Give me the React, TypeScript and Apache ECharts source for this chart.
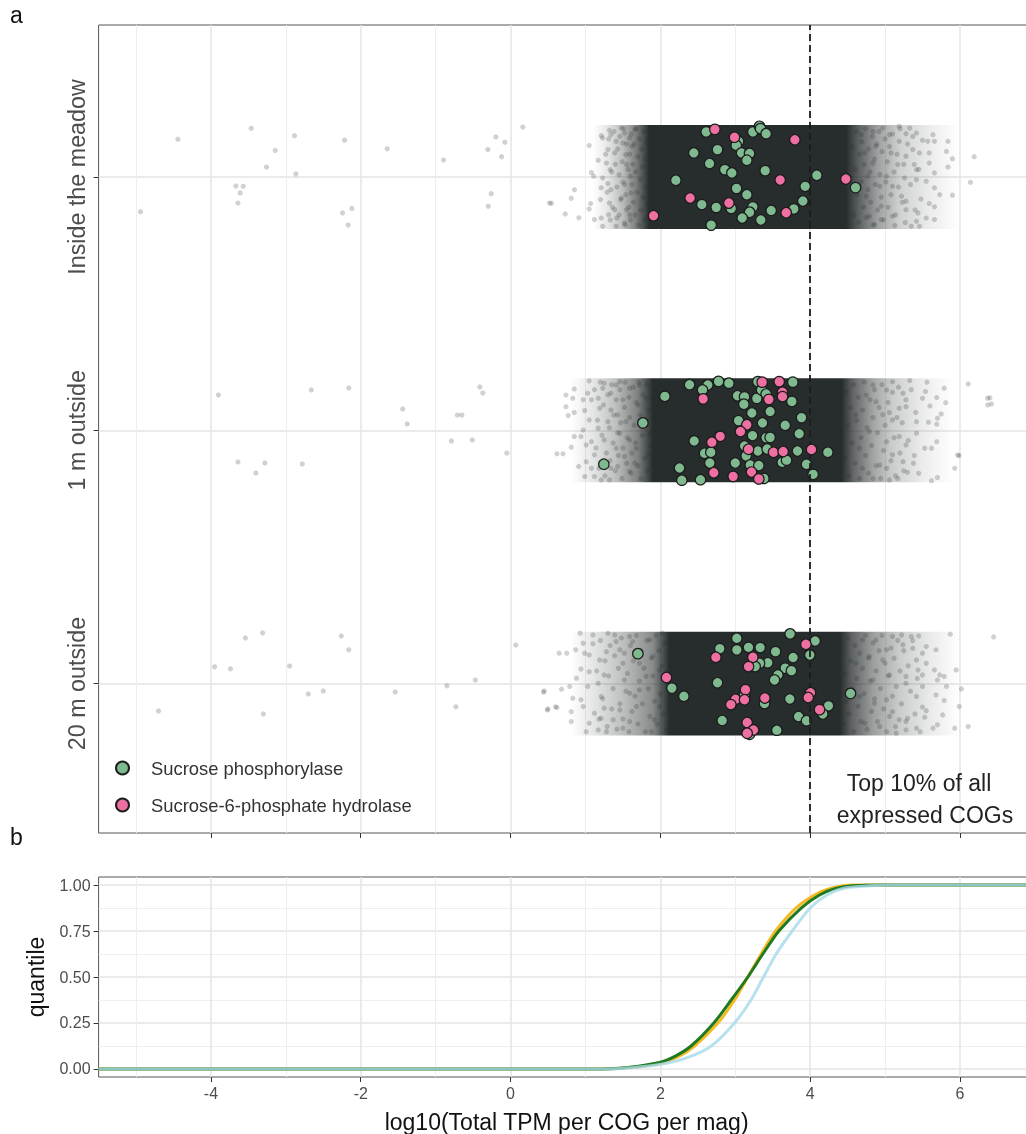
import React, { useEffect, useRef } from "react";
import * as echarts from "echarts";

const rowLabels = ["20 m outside", "1 m outside", "Inside the meadow"];
const rowValues = [1, 2, 3];
const majorX = [-4, -2, 0, 2, 4, 6];
const minorX = [-5, -3, -1, 1, 3, 5];
const majorQ = [0, 0.25, 0.5, 0.75, 1];
const minorQ = [0.125, 0.375, 0.625, 0.875];
const top10Threshold = 4;
const bandHalfHeight = 0.205;

// [log10 TPM, vertical jitter around the row]
const meadowGreen = [[2.612,.178],[3.235,.178],[3.324,.2],[3.337,.191],[3.413,.171],[3.044,.141],[3.013,.125],[2.763,.108],[2.447,.095],[3.084,.095],[3.191,.093],[3.155,.066],[2.657,.053],[2.861,.029],[2.955,.016],[3.4,.025],[4.089,.007],[2.207,-.013],[3.934,-.037],[3.017,-.045],[3.155,-.07],[4.606,-.042],[3.903,-.095],[2.554,-.109],[2.746,-.12],[2.946,-.124],[3.235,-.118],[3.191,-.139],[3.093,-.162],[3.342,-.17],[3.48,-.132],[3.782,-.126],[2.679,-.19]];
const meadowPink = [[2.728,.188],[2.99,.157],[3.796,.147],[3.6,-.012],[4.477,-.008],[2.398,-.083],[2.915,-.103],[3.68,-.141],[1.909,-.153]];
const oneMGreen = [[2.39,.18],[2.634,.179],[2.563,.159],[2.777,.193],[2.915,.186],[3.302,.192],[3.769,.19],[2.06,.134],[3.03,.136],[3.124,.132],[3.288,.126],[3.351,.159],[3.413,.143],[3.756,.114],[3.115,.103],[3.466,.074],[3.222,.068],[3.885,.05],[3.044,.038],[3.364,.029],[3.667,.02],[1.767,.029],[3.854,-.014],[3.231,-.021],[3.413,-.029],[3.466,-.028],[2.452,-.042],[3.124,-.062],[3.302,-.082],[3.426,-.074],[3.831,-.082],[4.236,-.087],[2.59,-.091],[2.674,-.087],[3.146,-.101],[2.661,-.129],[3,-.129],[3.2,-.137],[3.315,-.139],[3.627,-.126],[3.685,-.118],[3.951,-.134],[1.246,-.134],[2.256,-.149],[4.04,-.174],[2.287,-.197],[2.536,-.195],[3.382,-.19]];
const oneMPink = [[3.36,.19],[3.587,.192],[3.631,.15],[3.631,.133],[2.572,.124],[3.449,.122],[3.155,.022],[3.07,-.005],[2.799,-.024],[2.688,-.047],[3.177,-.075],[3.511,-.087],[3.64,-.084],[4.018,-.076],[2.714,-.168],[2.972,-.182],[3.217,-.165],[3.315,-.192]];
const twentyMGreen = [[3.021,.179],[3.733,.196],[4.067,.168],[2.794,.138],[3.021,.133],[3.177,.143],[3.333,.142],[3.538,.126],[3.996,.113],[3.773,.103],[3.435,.082],[3.324,.08],[3.266,.067],[3.667,.061],[3.751,.051],[3.569,.034],[3.524,.014],[2.763,.003],[1.7,.118],[2.154,-.018],[2.314,-.05],[4.539,-.039],[3.124,-.045],[3.729,-.061],[3.391,-.079],[4.245,-.088],[4.169,-.12],[3.845,-.13],[3.951,-.147],[2.826,-.146],[3.555,-.184],[3.191,-.2]];
const twentyMPink = [[3.943,.155],[2.741,.104],[3.235,.104],[3.177,.067],[2.082,.024],[3.137,-.024],[4.005,-.036],[3.974,-.055],[3.395,-.057],[3.004,-.062],[3.124,-.064],[2.941,-.083],[4.125,-.103],[3.159,-.154],[3.244,-.183],[3.159,-.196]];

const meadowCloud = [[-4.441,.149],[-3.462,.192],[-3.142,.105],[-3.258,.039],[-2.884,.163],[-2.866,.012],[-3.667,-.036],[-3.569,-.037],[-3.609,-.063],[-3.64,-.103],[-4.94,-.137],[-2.216,.145],[-2.243,-.142],[-2.118,-.124],[-2.167,-.19],[-1.647,.111],[-.895,.067],[-.196,.158],[-.076,.137],[-.303,.108],[-.12,.08],[.164,.197],[-.258,-.066],[-.298,-.116],[.52,-.103],[.547,-.104],[.854,-.05],[.81,-.084],[.73,-.146],[.912,-.161],
[1.05,.124],[1.08,.018],[1.11,.003],[1.21,.163],[1.32,.184],[1.34,.167],[1.23,.154],[1.17,.066],[1.21,-.043],[1.2,-.089],[1.05,-.126],[1.07,-.105],[1.12,-.168],[1.21,-.162],[1.23,-.195],[1.31,-.149],[1.41,-.195],[1.42,-.162],[1.39,-.129],[1.32,-.103],[1.34,-.05],[1.3,-.026],[1.23,-.004],[1.33,.029],[1.28,.055],[1.39,.095],[1.3,.108],[1.41,.141],[1.48,.193],[1.52,.174],[1.5,.134],[1.54,.088],[1.55,.049],[1.45,.009],[1.52,-.03],[1.48,-.083],[1.55,-.129],[1.52,-.182],[1.59,-.149],[1.61,-.063],[1.6,.003],[1.62,.121],[1.59,.154],[1.66,.187],
[5.19,.2],[5.33,.193],[5.28,.171],[5.42,.174],[5.5,.145],[5.64,.167],[5.57,.141],[5.66,.141],[5.84,.141],[5.82,.101],[5.9,.072],[5.84,.039],[5.66,.016],[5.59,.055],[5.59,.095],[5.46,.095],[5.37,.108],[5.28,.082],[5.39,.049],[5.42,.029],[5.26,-.004],[5.42,-.011],[5.55,-.017],[5.66,-.043],[5.73,-.07],[5.9,-.072],[5.48,-.087],[5.59,-.105],[5.66,-.118],[5.44,-.142],[5.66,-.168],[5.55,-.162],[5.42,-.175],[5.35,-.195],[5.46,-.195],[5.13,-.192],[5.1,-.155],[5.28,-.129],[5.28,-.096],[5.22,-.076],[5.1,-.037],[5.02,.003],[5.17,.049],[5.08,.095],[5.19,.141],[5.06,.167],[4.97,.193],[4.88,.121],[4.84,.055],[4.93,-.037],[4.95,-.116],[4.79,-.155],[4.75,-.076],[4.77,.003],[4.73,.095],[4.68,.167],[4.84,.18],[4.95,-.168],[4.86,-.188],[6.19,.08],[6.14,-.021],
[1.27,.09],[1.29,-.06],[1.31,.15],[1.33,-.17],[1.35,.02],[1.36,-.12],[1.38,.18],[1.4,.05],[1.42,-.04],[1.43,.11],[1.45,-.15],[1.46,.16],[1.47,-.09],[1.49,.06],[1.5,-.02],[1.51,.19],[1.53,-.19],[1.54,-.07],[1.55,.13],[1.57,.03],[1.58,-.12],[1.59,.09],[1.6,-.17],[1.61,.17],[1.62,-.03],[1.63,.05],[1.64,-.1],[1.65,.13],[1.66,-.15],[1.67,.02],[1.68,.19],[1.69,-.06],[1.7,.08],[1.71,-.19],[1.72,.15],[1.73,-.01],[1.74,-.13],[1.75,.11],[1.76,.04],[1.77,-.08],[1.78,.18],[1.79,-.17],[1.8,.07],[1.81,-.04],[1.82,.14],[1.84,-.11],
[4.56,.12],[4.58,-.15],[4.6,.03],[4.62,.18],[4.63,-.07],[4.65,-.18],[4.66,.09],[4.68,-.02],[4.69,.14],[4.71,-.12],[4.72,.05],[4.74,.19],[4.75,-.16],[4.77,-.05],[4.78,.11],[4.8,.02],[4.81,-.1],[4.83,.16],[4.84,-.19],[4.86,.07],[4.87,-.03],[4.89,.13],[4.9,-.13],[4.92,.18],[4.93,.01],[4.95,-.08],[4.96,.1],[4.98,-.17],[5,.15],[5.01,-.02],[5.03,.06],[5.04,-.12],[5.06,.12],[5.08,-.07],[5.1,.17],[5.12,.02],[5.14,-.15],[5.16,.09],[5.18,-.04],[5.2,.19],[5.23,-.1],[5.25,.05],[5.27,-.18],[5.3,.13],[5.34,-.03],[5.37,.16],[5.4,-.13],[5.45,.03]];
const oneMCloud = [[-3.9,.139],[-2.66,.159],[-2.16,.167],[-1.44,.084],[-1.38,.025],[-.71,.06],[-.65,.06],[-.41,.171],[-.37,.147],[-.79,-.042],[-.51,-.038],[-.05,-.09],[-3.64,-.125],[-3.4,-.169],[-3.28,-.129],[-2.78,-.133],[5.97,-.098],[6.4,.128],[6.42,.104],
[.62,-.093],[.7,-.093],[.81,-.067],[.91,-.143],[.74,.093],[.74,.139],[.85,.163],[.83,.126],[.77,.058],[.85,.07],[.99,.078],[.97,.12],[1.05,.195],[1.03,.146],[1.08,.12],[1.25,.186],[1.23,.166],[1.05,.041],[.97,.001],[.85,-.025],[.94,-.025],[1.01,-.058],[1.08,-.045],[1.12,-.097],[1.01,-.124],[.99,-.183],[1.12,-.183],[1.08,-.15],[1.21,-.196],[1.32,-.196],[1.34,-.15],[1.25,-.038],[1.17,.008],[1.3,.034],[1.34,.08],[1.19,.087],[1.17,.126],[1.34,.146],[1.41,.179],[1.46,.192],[1.5,.12],[1.43,.061],[1.54,.034],[1.46,-.012],[1.59,-.038],[1.41,-.071],[1.52,-.104],[1.43,-.143],[1.59,-.163],[1.66,-.13],[1.68,-.071],[1.7,.1],[1.59,.166],[1.72,.179],[1.81,.126],[1.83,-.097],[1.86,-.018],
[5.33,.196],[5.56,.19],[5.79,.166],[6.11,.183],[5.54,.153],[5.5,.126],[5.69,.129],[5.81,.109],[5.6,.096],[5.75,.064],[5.7,.047],[5.58,.032],[5.69,.024],[5.42,.034],[5.42,-.012],[5.28,.093],[5.1,.192],[5.02,.159],[5.24,.146],[5.19,.087],[5.1,.041],[5.19,-.025],[5.28,-.058],[5.39,-.1],[5.53,-.071],[5.62,-.071],[5.69,-.045],[5.99,-.1],[5.93,-.15],[5.7,-.186],[5.62,-.199],[5.3,-.166],[5.17,-.19],[5.06,-.196],[5.24,-.124],[5.1,-.097],[5.02,-.045],[4.97,.061],[4.88,.113],[4.84,.179],[4.75,.139],[4.79,-.005],[4.93,-.137],[4.84,-.19],[4.7,-.15],[4.66,-.071],[4.61,.061],[6.37,.126],[6.37,.1],
[1.12,.16],[1.14,-.07],[1.16,.04],[1.18,-.15],[1.2,.19],[1.22,-.02],[1.24,.1],[1.26,-.18],[1.28,-.09],[1.3,.14],[1.32,.01],[1.33,-.12],[1.35,.18],[1.37,-.05],[1.38,.06],[1.4,-.16],[1.41,.12],[1.43,-.01],[1.44,-.1],[1.46,.16],[1.47,.03],[1.49,-.19],[1.5,-.07],[1.52,.09],[1.53,.19],[1.55,-.13],[1.56,-.03],[1.58,.13],[1.59,.05],[1.61,-.17],[1.62,-.09],[1.64,.17],[1.65,.02],[1.67,-.05],[1.68,.11],[1.7,-.14],[1.71,.19],[1.73,.06],[1.74,-.19],[1.76,-.02],[1.77,.14],[1.79,-.11],[1.8,.03],[1.82,.18],[1.83,-.16],[1.85,.08],[1.87,-.06],[1.89,.13],[1.91,-.13],[1.93,.01],
[4.46,-.11],[4.48,.15],[4.5,.02],[4.52,-.18],[4.54,.09],[4.56,-.05],[4.58,.18],[4.6,-.13],[4.62,.04],[4.64,.13],[4.66,-.19],[4.68,-.03],[4.7,.08],[4.72,.19],[4.74,-.1],[4.76,.01],[4.78,-.17],[4.8,.12],[4.82,-.06],[4.84,.05],[4.86,.16],[4.88,-.14],[4.9,-.01],[4.92,.09],[4.94,-.19],[4.96,.18],[4.98,-.08],[5,.02],[5.02,-.15],[5.04,.11],[5.06,.07],[5.08,-.12],[5.1,.15],[5.12,-.03],[5.14,-.18],[5.16,.05],[5.18,.17],[5.2,-.09],[5.23,.03],[5.25,-.16],[5.28,.12],[5.31,-.04],[5.35,.16],[5.38,-.13],[5.41,.07],[5.45,-.17]];
const twentyMCloud = [[-4.7,-.108],[-3.95,.066],[-3.74,.058],[-3.54,.18],[-3.31,.2],[-3.3,-.12],[-2.95,.069],[-2.7,-.041],[-2.5,-.029],[-2.26,.188],[-2.16,.133],[-1.54,-.033],[-.85,-.009],[-.73,-.092],[-.47,.014],[.07,.152],[.45,-.029],[.49,-.104],[.6,-.092],[6.45,.184],
[.93,.199],[1.1,.192],[1.3,.199],[.65,.12],[.75,.12],[.87,.133],[.97,.159],[1.1,.157],[.99,.12],[1.05,.113],[.94,.057],[1.05,.047],[.88,.021],[.79,-.012],[.68,-.022],[.44,-.034],[.5,-.1],[.62,-.095],[.81,-.111],[.83,-.058],[.94,-.064],[1.03,-.012],[.97,-.091],[.81,-.15],[1.01,-.19],[1.05,-.157],[1.17,-.183],[1.28,-.19],[1.21,-.137],[1.12,-.117],[1.25,-.097],[1.21,-.051],[1.17,.001],[1.25,.034],[1.19,.093],[1.28,.126],[1.41,.166],[1.39,.192],[1.5,.08],[1.46,.133],[1.59,.186],[1.52,.014],[1.59,-.038],[1.46,-.104],[1.37,-.143],[1.5,-.176],[1.59,-.15],[1.68,-.091],[1.72,-.025],[1.81,.028],[1.72,.08],[1.63,.166],[1.86,.172],[1.9,.107],[1.92,-.143],[1.88,-.19],[1.99,-.091],[1.99,.054],[2.03,.199],
[5.1,.186],[5.22,.192],[5.35,.186],[5.45,.188],[5.87,.195],[5.68,.133],[5.55,.146],[5.37,.139],[5.24,.153],[5.5,.12],[5.42,.093],[5.55,.08],[5.44,.054],[5.66,.054],[5.73,.034],[5.95,.054],[5.79,.028],[5.7,.014],[5.5,.034],[5.28,.028],[5.82,-.012],[6.02,-.021],[5.5,-.012],[5.28,.001],[5.68,-.045],[5.79,-.067],[5.42,-.051],[5.99,-.091],[5.5,-.093],[5.55,-.107],[5.3,-.137],[5.53,-.133],[5.77,-.124],[5.7,-.163],[5.64,-.176],[5.93,-.176],[6.11,-.17],[5.42,-.176],[5.28,-.183],[5.15,-.196],[5.19,-.143],[5.1,-.111],[5.02,-.064],[5.15,-.012],[5.06,.034],[4.97,.093],[5.02,.133],[4.88,.172],[4.79,.107],[4.84,.014],[4.86,-.078],[4.93,-.17],[4.73,-.157],[4.66,-.051],[4.61,.08],[4.7,.172],
[1.15,.05],[1.18,-.14],[1.2,.17],[1.23,-.06],[1.26,.09],[1.29,-.17],[1.31,.03],[1.33,.15],[1.35,-.1],[1.37,-.02],[1.39,.11],[1.42,-.18],[1.44,.06],[1.46,-.08],[1.48,.18],[1.5,-.14],[1.52,.12],[1.54,-.03],[1.56,.04],[1.58,-.19],[1.6,.15],[1.62,-.11],[1.64,.09],[1.66,-.05],[1.68,.19],[1.7,-.16],[1.72,.01],[1.74,.13],[1.76,-.08],[1.78,.06],[1.8,-.19],[1.82,.17],[1.84,-.02],[1.86,-.13],[1.88,.1],[1.9,.03],[1.92,-.07],[1.94,.19],[1.96,-.16],[1.98,.13],[2,-.04],[2.02,.07],[2.04,-.12],[2.06,.16],[2.08,-.18],[2.1,.02],[2.12,-.09],[2.14,.12],
[4.42,.14],[4.44,-.16],[4.46,.04],[4.48,-.07],[4.5,.18],[4.52,-.12],[4.54,.09],[4.56,-.02],[4.58,-.19],[4.6,.15],[4.62,.02],[4.64,-.09],[4.66,.12],[4.68,-.15],[4.7,.06],[4.72,-.04],[4.74,.19],[4.76,-.18],[4.78,.1],[4.8,.01],[4.82,-.11],[4.84,.16],[4.86,-.06],[4.88,.05],[4.9,-.15],[4.92,.13],[4.94,-.02],[4.96,.19],[4.98,-.1],[5,.08],[5.02,-.19],[5.04,.03],[5.06,-.13],[5.08,.14],[5.1,-.05],[5.12,.1],[5.14,-.17],[5.17,.17],[5.2,.05],[5.22,-.08],[5.25,.13],[5.28,-.15],[5.31,.07],[5.34,-.03],[5.37,.17],[5.4,-.12],[5.43,.02],[5.47,-.19]];

// How solid the mass of overplotted points looks along x, per row
const densityX1 = [0.8, 1.1, 1.5, 1.9, 2.12, 4.4, 4.55, 4.85, 5.2, 5.6, 6.0];
const densityA1 = [0, 0.12, 0.3, 0.55, 1, 1, 0.75, 0.45, 0.24, 0.1, 0];
const densityX2 = [0.8, 1.1, 1.4, 1.7, 1.9, 4.42, 4.58, 4.85, 5.1, 5.5, 5.9];
const densityA2 = [0, 0.12, 0.3, 0.6, 1, 1, 0.72, 0.42, 0.24, 0.09, 0];
const densityX3 = [1.1, 1.3, 1.5, 1.68, 1.85, 4.48, 4.65, 4.9, 5.2, 5.6, 6.0];
const densityA3 = [0, 0.12, 0.32, 0.62, 1, 1, 0.75, 0.45, 0.22, 0.09, 0];

const orangeX = [-5.5, 0, 1, 1.455, 1.99, 2.25, 2.456, 2.768, 2.99, 3.168, 3.346, 3.538, 3.81, 4.125, 4.35, 4.57, 5, 6.89];
const orangeQ = [0, 0, 0, 0.004, 0.03, 0.07, 0.125, 0.25, 0.375, 0.5, 0.625, 0.75, 0.875, 0.96, 0.99, 1, 1, 1];
const greenX = [-5.5, 0, 1, 1.455, 1.99, 2.2, 2.41, 2.714, 2.946, 3.168, 3.368, 3.582, 3.88, 4.125, 4.35, 4.57, 5, 6.89];
const greenQ = [0, 0, 0, 0.004, 0.036, 0.07, 0.125, 0.25, 0.375, 0.5, 0.625, 0.75, 0.875, 0.946, 0.982, 0.996, 1, 1];
const blueX = [-5.5, 0, 1, 1.455, 1.99, 2.35, 2.68, 2.99, 3.21, 3.377, 3.546, 3.76, 4.0, 4.24, 4.48, 4.79, 5.1, 6.89];
const blueQ = [0, 0, 0, 0.003, 0.025, 0.06, 0.125, 0.25, 0.375, 0.5, 0.625, 0.75, 0.875, 0.95, 0.985, 0.996, 1, 1];

const FONT = "Liberation Sans";
const CORE = "#272c2c";
const GRID_MAJOR = "#e4e4e4";
const GRID_MINOR = "#eeeeee";

const atRow = (row: number, pts: number[][]) => pts.map(([x, d]) => [x, row + d]);
const zip = (xs: number[], ys: number[]) => xs.map((x, i) => [x, ys[i]]);

const densityRows = [
  { row: 1, xs: densityX1, as: densityA1 },
  { row: 2, xs: densityX2, as: densityA2 },
  { row: 3, xs: densityX3, as: densityA3 },
];

export default function App() {
  const ref = useRef<HTMLDivElement>(null);
  useEffect(() => {
    document.body.style.margin = "0";
    const chart = echarts.init(ref.current!, undefined, { renderer: "svg" });
    const xBase = { type: "value", min: -5.5, max: 6.89 };
    const hiddenLine = { show: false, onZero: false };
    const markerStyle = (color: string) => ({ color, borderColor: "#1c1c1c", borderWidth: 1.2, opacity: 1 });
    const curve = { type: "line", xAxisIndex: 2, yAxisIndex: 1, showSymbol: false, smooth: 0.25 };
    chart.setOption({
      animation: false,
      backgroundColor: "#ffffff",
      textStyle: { fontFamily: FONT },
      grid: [
        { left: 98.6, top: 25, width: 928, height: 808, show: true, outerBoundsMode: "none", borderColor: "#555555", borderWidth: 1, backgroundColor: "transparent" },
        { left: 98.6, top: 877, width: 928, height: 200, show: true, outerBoundsMode: "none", borderColor: "#555555", borderWidth: 1, backgroundColor: "transparent" },
      ],
      xAxis: [
        { ...xBase, gridIndex: 0, axisLine: hiddenLine,
          axisTick: { show: true, length: 5, customValues: majorX, lineStyle: { color: "#333333" } },
          axisLabel: { show: false, customValues: majorX },
          splitLine: { show: true, lineStyle: { color: GRID_MAJOR, width: 1.5 } } },
        { ...xBase, gridIndex: 0, axisLine: hiddenLine,
          axisTick: { show: false, customValues: minorX }, axisLabel: { show: false, customValues: minorX },
          splitLine: { show: true, lineStyle: { color: GRID_MINOR, width: 1 } } },
        { ...xBase, gridIndex: 1, axisLine: hiddenLine,
          axisTick: { show: true, length: 5, customValues: majorX, lineStyle: { color: "#333333" } },
          axisLabel: { show: true, customValues: majorX, color: "#4d4d4d", fontSize: 16, margin: 8, fontFamily: FONT },
          splitLine: { show: true, lineStyle: { color: GRID_MAJOR, width: 1.5 } },
          name: "log10(Total TPM per COG per mag)", nameLocation: "middle", nameGap: 33,
          nameTextStyle: { color: "#111111", fontSize: 23, fontFamily: FONT, padding: [0, 0, 0, 8] } },
        { ...xBase, gridIndex: 1, axisLine: hiddenLine,
          axisTick: { show: false, customValues: minorX }, axisLabel: { show: false, customValues: minorX },
          splitLine: { show: true, lineStyle: { color: GRID_MINOR, width: 1 } } },
      ],
      yAxis: [
        { type: "value", gridIndex: 0, min: 0.41, max: 3.6, axisLine: hiddenLine,
          axisTick: { show: true, length: 5, customValues: rowValues, lineStyle: { color: "#333333" } },
          axisLabel: { show: true, customValues: rowValues, rotate: 90, color: "#4d4d4d", fontSize: 23.3, margin: 10, fontFamily: FONT,
            formatter: (v: number) => rowLabels[rowValues.indexOf(v)] },
          splitLine: { show: true, lineStyle: { color: GRID_MAJOR, width: 1.5 } } },
        { type: "value", gridIndex: 1, min: -0.0435, max: 1.0435, axisLine: hiddenLine,
          axisTick: { show: true, length: 5, customValues: majorQ, lineStyle: { color: "#333333" } },
          axisLabel: { show: true, customValues: majorQ, color: "#4d4d4d", fontSize: 16, margin: 8, fontFamily: FONT,
            formatter: (v: number) => v.toFixed(2) },
          splitLine: { show: true, lineStyle: { color: GRID_MAJOR, width: 1.5 } },
          name: "quantile", nameLocation: "middle", nameGap: 51, nameRotate: 90,
          nameTextStyle: { color: "#111111", fontSize: 23, fontFamily: FONT } },
        { type: "value", gridIndex: 1, min: -0.0435, max: 1.0435, axisLine: hiddenLine,
          axisTick: { show: false, customValues: minorQ }, axisLabel: { show: false, customValues: minorQ },
          splitLine: { show: true, lineStyle: { color: GRID_MINOR, width: 1 } } },
      ],
      legend: {
        data: ["Sucrose phosphorylase", "Sucrose-6-phosphate hydrolase"],
        orient: "vertical", left: 115, top: 759, padding: 0, itemWidth: 13, itemHeight: 13, itemGap: 19, icon: "circle",
        textStyle: { color: "#333333", fontSize: 18.4, fontFamily: FONT, padding: [0, 0, 0, 17] },
      },
      graphic: [
        { type: "text", left: 10, top: 3, z: 100, style: { text: "a", fontSize: 23, fill: "#111111", fontFamily: FONT } },
        { type: "text", left: 10, top: 825, z: 100, style: { text: "b", fontSize: 23, fill: "#111111", fontFamily: FONT } },
        { type: "text", x: 919, y: 783, z: 100, style: { text: "Top 10% of all", fontSize: 23, fill: "#222222", fontFamily: FONT, align: "center", verticalAlign: "middle" } },
        { type: "text", x: 925, y: 815, z: 100, style: { text: "expressed COGs", fontSize: 23, fill: "#222222", fontFamily: FONT, align: "center", verticalAlign: "middle" } },
      ],
      series: [
        {
          type: "custom", xAxisIndex: 0, yAxisIndex: 0, z: 2, silent: true, clip: true,
          data: densityRows.map((d) => [d.row]),
          renderItem: (params: any, api: any) => {
            const d = densityRows[params.dataIndex];
            const x0 = d.xs[0];
            const x1 = d.xs[d.xs.length - 1];
            const a = api.coord([x0, d.row + bandHalfHeight]);
            const b = api.coord([x1, d.row - bandHalfHeight]);
            return {
              type: "rect",
              shape: { x: a[0], y: a[1], width: b[0] - a[0], height: b[1] - a[1] },
              style: {
                fill: new echarts.graphic.LinearGradient(0, 0, 1, 0,
                  d.xs.map((x, i) => ({ offset: (x - x0) / (x1 - x0), color: `rgba(39,44,44,${d.as[i]})` }))),
              },
            };
          },
        },
        {
          type: "scatter", name: "All COGs", xAxisIndex: 0, yAxisIndex: 0, z: 3, silent: true,
          symbolSize: 5.2,
          itemStyle: { color: CORE, opacity: 0.22 },
          data: [...atRow(3, meadowCloud), ...atRow(2, oneMCloud), ...atRow(1, twentyMCloud)],
          markLine: {
            silent: true, symbol: "none", label: { show: false },
            lineStyle: { color: "#1c1c1c", type: [7, 4], width: 1.8 },
            data: [{ xAxis: top10Threshold }],
          },
        },
        {
          type: "scatter", name: "Sucrose phosphorylase", xAxisIndex: 0, yAxisIndex: 0, z: 4, symbolSize: 10.5,
          itemStyle: markerStyle("#7fb98f"),
          data: [...atRow(3, meadowGreen), ...atRow(2, oneMGreen), ...atRow(1, twentyMGreen)],
        },
        {
          type: "scatter", name: "Sucrose-6-phosphate hydrolase", xAxisIndex: 0, yAxisIndex: 0, z: 5, symbolSize: 10.5,
          itemStyle: markerStyle("#ee6fa2"),
          data: [...atRow(3, meadowPink), ...atRow(2, oneMPink), ...atRow(1, twentyMPink)],
        },
        { ...curve, name: "20 m outside", z: 3, lineStyle: { color: "#f6b922", width: 3 }, data: zip(orangeX, orangeQ) },
        { ...curve, name: "1 m outside", z: 4, lineStyle: { color: "#1f7a22", width: 3 }, data: zip(greenX, greenQ) },
        { ...curve, name: "Inside the meadow", z: 5, lineStyle: { color: "#a6daea", width: 3, opacity: 0.8 }, data: zip(blueX, blueQ) },
      ],
    });
    return () => chart.dispose();
  }, []);
  return <div ref={ref} style={{ width: 1026, height: 1134, filter: "blur(0.4px)" }} />;
}
